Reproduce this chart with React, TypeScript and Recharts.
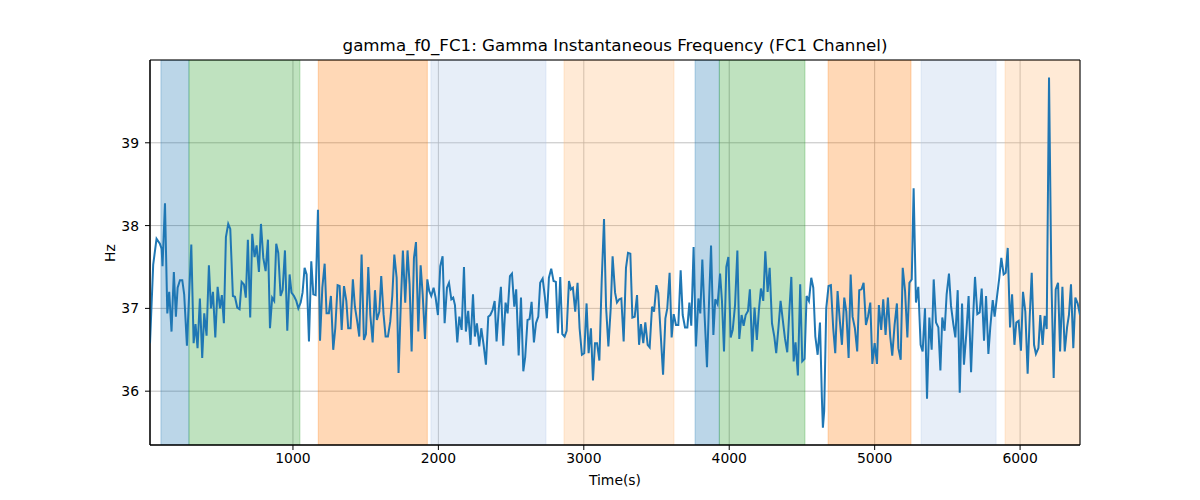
import {
  CartesianGrid,
  Line,
  LineChart,
  ReferenceArea,
  XAxis,
  YAxis,
} from "recharts";

// samples, [time, Hz]
const samplesA: [number, number][] = [
  [17, 36.58], [39, 37.53], [62, 37.84], [85, 37.78], [97, 37.72], [103, 37.51], [120, 38.27], [136, 36.94],
  [149, 37.2], [165, 36.72], [181, 37.44], [195, 36.9], [207, 37.25], [223, 37.34], [239, 37.34], [252, 37.17],
  [271, 36.55], [301, 37.77], [317, 36.58], [330, 36.81], [344, 36.52], [360, 37.12], [376, 36.4], [390, 36.94],
  [406, 36.67], [422, 37.52], [436, 37.0], [450, 37.2], [466, 36.65], [482, 37.26], [498, 37.0], [511, 37.16],
  [525, 36.82], [539, 37.86], [555, 38.02], [569, 37.96], [587, 37.15], [601, 37.14], [617, 37.01], [633, 36.99],
  [647, 37.32], [663, 37.29], [676, 37.13], [690, 37.83], [706, 36.89], [720, 37.9], [736, 37.62], [750, 37.76],
  [766, 37.44], [780, 38.02], [796, 37.61], [812, 37.45], [828, 37.83], [842, 36.76], [857, 37.13], [871, 37.09],
  [885, 37.78], [899, 37.67], [915, 37.15], [929, 37.22], [945, 37.7], [961, 36.73], [977, 37.41], [990, 37.19],
  [1007, 37.15], [1023, 37.09],
];

const samplesB: [number, number][] = [
  [1037, 37.0], [1053, 37.07], [1066, 37.19], [1080, 37.49], [1094, 37.41], [1110, 36.6], [1126, 37.57], [1140, 37.17],
  [1156, 37.16], [1172, 38.19], [1186, 36.61], [1202, 37.25], [1218, 37.54], [1231, 36.94], [1247, 36.94], [1261, 37.15],
  [1277, 36.5], [1291, 36.76], [1307, 37.28], [1321, 37.27], [1335, 36.74], [1351, 37.27], [1367, 37.09], [1380, 36.76],
  [1396, 36.76], [1412, 37.35], [1426, 37.02], [1442, 36.84], [1456, 36.66], [1472, 37.65], [1488, 36.62], [1502, 36.69],
  [1518, 37.5], [1532, 36.92], [1548, 36.59], [1564, 37.22], [1577, 36.86], [1594, 36.96], [1607, 37.39], [1623, 36.93],
  [1637, 36.66], [1653, 36.66], [1669, 36.84], [1683, 37.15], [1697, 37.65], [1713, 37.37], [1726, 36.22], [1742, 37.07],
  [1756, 37.7], [1772, 37.07], [1788, 37.7], [1802, 37.29], [1816, 36.48], [1832, 37.61], [1846, 37.8], [1862, 36.72],
  [1878, 37.52], [1892, 37.17], [1908, 36.63], [1924, 37.35], [1937, 37.21], [1951, 37.15], [1967, 37.25], [1981, 37.13],
  [1997, 36.92], [2013, 37.51], [2029, 37.63], [2043, 36.82], [2059, 37.25], [2073, 37.31], [2089, 37.11], [2102, 37.13],
  [2114, 37.04],
];

const samplesC: [number, number][] = [
  [2130, 36.59], [2144, 36.9], [2160, 36.74], [2176, 37.5], [2189, 36.72], [2205, 36.97], [2221, 36.56], [2238, 37.17],
  [2251, 36.66], [2265, 36.82], [2281, 36.54], [2295, 36.76], [2311, 36.56], [2327, 36.32], [2343, 36.9], [2357, 36.92],
  [2373, 36.98], [2387, 37.09], [2400, 36.6], [2416, 37.01], [2430, 37.26], [2446, 36.55], [2462, 37.07], [2476, 36.94],
  [2492, 37.39], [2506, 37.42], [2522, 37.02], [2535, 37.23], [2552, 36.43], [2568, 37.13], [2584, 36.24], [2597, 36.41],
  [2613, 36.86], [2627, 36.87], [2641, 37.08], [2657, 36.59], [2671, 36.82], [2687, 36.9], [2700, 37.31], [2717, 37.36],
  [2733, 37.13], [2746, 36.88], [2760, 37.37], [2776, 37.48], [2792, 37.33], [2808, 37.32], [2822, 36.7], [2838, 37.38],
  [2852, 36.69], [2868, 36.66], [2882, 36.73], [2898, 37.33], [2911, 37.23], [2925, 37.25], [2941, 36.96], [2957, 37.31],
  [2971, 36.76], [2987, 36.44], [3003, 36.46], [3019, 37.06], [3033, 36.46], [3049, 36.76], [3063, 36.13],
];

const samplesD: [number, number][] = [
  [3077, 36.58], [3091, 36.58], [3107, 36.37], [3123, 37.33], [3139, 38.08], [3153, 37.02], [3169, 36.54], [3185, 37.0],
  [3198, 37.63], [3215, 37.19], [3228, 37.07], [3244, 37.11], [3258, 37.12], [3274, 36.6], [3290, 37.49], [3304, 37.67],
  [3320, 37.66], [3334, 36.89], [3350, 36.9], [3366, 37.16], [3380, 36.56], [3393, 36.81], [3409, 36.58], [3423, 36.83],
  [3439, 36.56], [3453, 36.53], [3469, 37.02], [3483, 36.96], [3499, 37.28], [3512, 37.19], [3529, 36.68], [3545, 36.2],
  [3561, 36.88], [3574, 37.0], [3590, 37.43], [3604, 36.65], [3618, 36.93], [3634, 36.8], [3650, 36.8], [3666, 37.46],
  [3680, 36.92], [3696, 36.77], [3712, 36.77], [3726, 37.07], [3739, 36.79], [3755, 37.74], [3771, 36.54], [3788, 37.12],
  [3801, 36.94], [3815, 37.59], [3831, 36.9], [3847, 36.29], [3861, 37.07], [3875, 37.76], [3891, 36.68], [3904, 37.11],
  [3920, 37.05], [3937, 37.42], [3950, 37.09], [3964, 36.48], [3980, 37.5], [3994, 37.62], [4010, 36.65], [4024, 36.74],
  [4040, 37.04], [4056, 37.7], [4069, 36.63], [4085, 36.92], [4099, 36.79], [4113, 36.92], [4129, 36.97],
];

const samplesE: [number, number][] = [
  [4142, 37.23], [4158, 36.48], [4174, 37.01], [4190, 36.62], [4204, 36.98], [4218, 37.24], [4234, 37.09], [4248, 37.69],
  [4264, 37.2], [4278, 37.49], [4294, 36.82], [4310, 36.66], [4323, 36.46], [4339, 36.78], [4353, 37.09], [4369, 36.85],
  [4383, 36.64], [4399, 36.47], [4413, 36.96], [4427, 37.38], [4443, 36.36], [4456, 36.59], [4472, 36.19], [4488, 37.29],
  [4502, 36.36], [4518, 36.39], [4532, 37.15], [4548, 37.09], [4564, 37.37], [4578, 37.25], [4592, 36.66], [4608, 36.44],
  [4624, 36.83], [4637, 35.92], [4644, 35.56], [4653, 35.76], [4667, 37.0], [4683, 37.27], [4699, 37.28], [4715, 36.76],
  [4729, 36.46], [4745, 37.21], [4761, 36.84], [4775, 36.56], [4791, 37.13], [4805, 36.96], [4821, 36.4], [4835, 37.41],
  [4848, 36.9], [4864, 36.76], [4880, 36.48], [4894, 37.22], [4910, 37.23], [4924, 37.31], [4940, 36.8], [4954, 36.9],
  [4970, 37.07], [4984, 36.33], [5000, 36.58], [5016, 36.33], [5029, 37.04], [5045, 36.74], [5059, 37.11], [5075, 36.68],
  [5091, 37.13], [5107, 36.66], [5121, 36.43], [5137, 36.8], [5153, 37.06],
];

const samplesF: [number, number][] = [
  [5163, 36.52], [5179, 36.38], [5193, 37.49], [5209, 37.21], [5225, 36.65], [5239, 37.31], [5255, 37.35], [5268, 38.45],
  [5284, 37.07], [5300, 37.26], [5316, 36.56], [5330, 36.48], [5346, 37.0], [5360, 35.91], [5376, 36.89], [5392, 36.5],
  [5406, 37.35], [5422, 36.83], [5438, 36.77], [5452, 36.25], [5465, 36.89], [5481, 36.73], [5495, 37.17], [5511, 37.42],
  [5525, 37.03], [5541, 36.81], [5555, 36.65], [5571, 37.22], [5585, 35.98], [5601, 37.06], [5614, 36.32], [5630, 36.69],
  [5646, 37.15], [5663, 36.23], [5676, 36.85], [5690, 37.38], [5706, 36.93], [5722, 36.95], [5736, 37.24], [5752, 36.61],
  [5766, 37.15], [5782, 36.45], [5795, 36.77], [5812, 37.1], [5825, 36.9], [5841, 37.14], [5857, 37.37], [5871, 37.61],
  [5887, 37.41], [5901, 37.43], [5915, 37.73], [5931, 36.77], [5945, 37.17], [5961, 36.56], [5974, 36.83], [5990, 36.85],
  [6006, 36.49], [6020, 37.2], [6036, 36.96], [6052, 36.21], [6066, 36.89], [6080, 37.43], [6096, 36.56], [6109, 36.45],
  [6126, 36.52], [6139, 36.92], [6155, 36.56], [6169, 36.91], [6183, 36.75], [6199, 39.79], [6215, 37.37], [6231, 36.16],
  [6245, 37.23], [6261, 37.31], [6275, 36.48], [6291, 37.26], [6307, 36.48], [6323, 36.77], [6336, 36.92], [6350, 37.29],
  [6366, 36.52], [6380, 37.13], [6396, 37.06], [6412, 36.92],
];

// shaded intervals
const spanStart = [92, 285, 1174, 1949, 2864, 3765, 3932, 4680, 5319, 5897];
const spanEnd = [285, 1048, 1924, 2740, 3620, 3932, 4521, 5250, 5835, 6412];
const spanKind = ["blue", "green", "orange", "lightblue", "lightorange", "blue", "green", "orange", "lightblue", "lightorange"];

const xTicks = [1000, 2000, 3000, 4000, 5000, 6000];
const yTicks = [36, 37, 38, 39];

const KIND_COLOR: Record<string, string> = {
  blue: "#1f77b4",
  green: "#2ca02c",
  orange: "#ff7f0e",
  lightblue: "#aec7e8",
  lightorange: "#ffbb78",
};

const X_DOMAIN: [number, number] = [17, 6412];
const Y_DOMAIN: [number, number] = [35.35, 40.0];

const rows = [...samplesA, ...samplesB, ...samplesC, ...samplesD, ...samplesE, ...samplesF].map(
  ([t, hz]) => ({ t, hz })
);

const FONT = "'DejaVu Sans', sans-serif";
const tickStyle = { fontSize: 13.9, fill: "#000", fontFamily: FONT };

export default function App() {
  return (
    <div
      style={{
        position: "absolute",
        left: 0,
        top: 0,
        width: 1200,
        height: 500,
        background: "#fff",
        fontFamily: FONT,
      }}
    >
      <div
        style={{
          position: "absolute",
          top: 35,
          left: 150,
          width: 930,
          textAlign: "center",
          fontSize: 16.7,
          lineHeight: "20px",
          color: "#000",
        }}
      >
        gamma_f0_FC1: Gamma Instantaneous Frequency (FC1 Channel)
      </div>
      <div
        style={{
          position: "absolute",
          top: 472,
          left: 150,
          width: 930,
          textAlign: "center",
          fontSize: 13.9,
          lineHeight: "17px",
          color: "#000",
        }}
      >
        Time(s)
      </div>
      <div
        style={{
          position: "absolute",
          left: 110,
          top: 253,
          transform: "translate(-50%, -50%) rotate(-90deg)",
          fontSize: 13.9,
          lineHeight: "17px",
          color: "#000",
        }}
      >
        Hz
      </div>
      <LineChart
        width={1200}
        height={500}
        data={rows}
        margin={{ top: 60, right: 120, bottom: 25, left: 110 }}
        style={{ position: "absolute", left: 0, top: 0 }}
      >
        {spanStart.map((s, i) => (
          <ReferenceArea
            key={`span-${i}`}
            x1={s}
            x2={spanEnd[i]}
            y1={Y_DOMAIN[0]}
            y2={Y_DOMAIN[1]}
            fill={KIND_COLOR[spanKind[i]]}
            fillOpacity={0.3}
            stroke={KIND_COLOR[spanKind[i]]}
            strokeOpacity={0.3}
            ifOverflow="hidden"
          />
        ))}
        <CartesianGrid stroke="#b0b0b0" strokeWidth={0.8} />
        <XAxis
          dataKey="t"
          type="number"
          domain={X_DOMAIN}
          ticks={xTicks}
          allowDataOverflow
          height={30}
          tickSize={5}
          tickMargin={3}
          tick={tickStyle}
          stroke="#000"
          tickLine={{ stroke: "#000" }}
          axisLine={{ stroke: "#000" }}
        />
        <YAxis
          type="number"
          domain={Y_DOMAIN}
          ticks={yTicks}
          allowDataOverflow
          width={40}
          tickSize={5}
          tickMargin={6}
          tick={tickStyle}
          stroke="#000"
          tickLine={{ stroke: "#000" }}
          axisLine={{ stroke: "#000" }}
        />
        <Line
          type="linear"
          dataKey="hz"
          stroke="#1f77b4"
          strokeWidth={2}
          dot={false}
          isAnimationActive={false}
        />
        <ReferenceArea
          x1={X_DOMAIN[0]}
          x2={X_DOMAIN[1]}
          y1={Y_DOMAIN[0]}
          y2={Y_DOMAIN[1]}
          fill="none"
          stroke="#000"
          strokeWidth={1}
        />
      </LineChart>
    </div>
  );
}
